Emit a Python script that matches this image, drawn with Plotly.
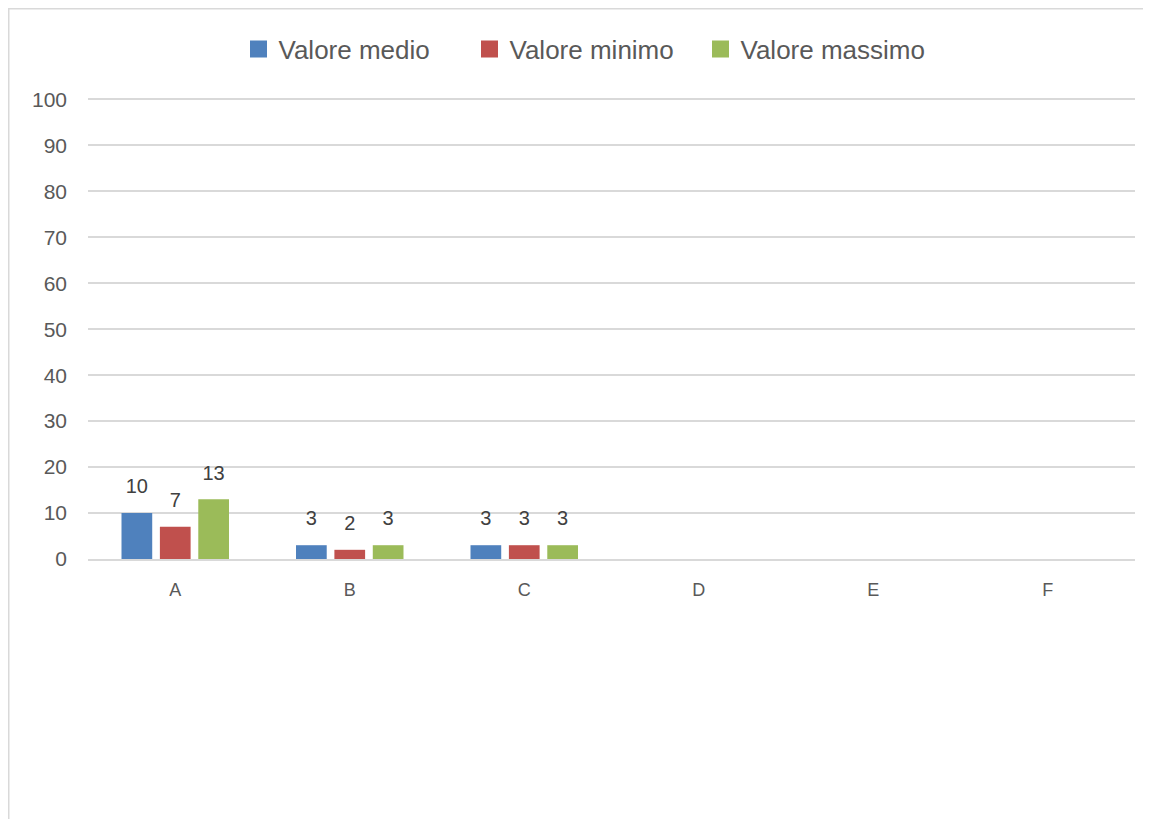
import plotly.graph_objects as go

categories = ["A", "B", "C", "D", "E", "F"]
valore_medio = [10, 3, 3, None, None, None]
valore_minimo = [7, 2, 3, None, None, None]
valore_massimo = [13, 3, 3, None, None, None]
y_ticks = [0, 10, 20, 30, 40, 50, 60, 70, 80, 90, 100]

series = [
    ("Valore medio", valore_medio, "#4F81BD"),
    ("Valore minimo", valore_minimo, "#C0504D"),
    ("Valore massimo", valore_massimo, "#9BBB59"),
]

FONT = "Liberation Sans, Arial, sans-serif"
BARGAP = 0.34
fig = go.Figure()
for i, (name, vals, col) in enumerate(series):
    fig.add_trace(go.Bar(
        x=categories, y=vals, name=name, marker_color=col,
        marker_line_width=0, offsetgroup=str(i), showlegend=False,
    ))
# legend-only entries (larger legend squares)
for i, (name, vals, col) in enumerate(series):
    fig.add_trace(go.Bar(
        x=[None], y=[None], name=name, marker_color=col,
        marker_line=dict(width=5, color=col), offsetgroup=str(i), showlegend=True,
    ))
for i, (name, vals, col) in enumerate(series):
    fig.add_trace(go.Scatter(
        x=categories, y=vals, mode="markers+text", offsetgroup=str(i),
        text=[("" if v is None else str(v)) for v in vals],
        textposition="top center", cliponaxis=False, showlegend=False,
        marker=dict(size=22, color="rgba(0,0,0,0)"), hoverinfo="skip",
        textfont=dict(size=20, color="#404040", family=FONT),
    ))

W, H = 1151, 819
L, T = 80, 90
pw, ph = 1047, 461
R, B = W - L - pw, H - T - ph

fig.update_layout(
    width=W, height=H,
    margin=dict(l=L, r=R, t=T, b=B, pad=0),
    paper_bgcolor="white", plot_bgcolor="white",
    barmode="group", bargap=BARGAP, bargroupgap=0.2,
    scattermode="group", scattergap=BARGAP,
    font=dict(family=FONT, color="#595959"),
    legend=dict(orientation="h", x=(242 - 11.5 - L) / pw, xanchor="left",
                y=1 + (T - 41) / ph, yanchor="middle",
                font=dict(size=26, color="#595959", family=FONT), itemwidth=30,
                entrywidth=186, entrywidthmode="pixels",
                traceorder="normal"),
    showlegend=True,
    xaxis=dict(showgrid=False, showline=True, linecolor="#D9D9D9", linewidth=1.5,
               ticks="", tickfont=dict(size=18, color="#595959"), ticklabelstandoff=14),
    yaxis=dict(range=[0, 100.3], tickvals=y_ticks, showgrid=True, gridcolor="#D9D9D9",
               gridwidth=1.5, zeroline=False, showline=False, ticks="",
               tickfont=dict(size=21, color="#595959"), ticklabelstandoff=20),
    shapes=[dict(type="rect", xref="paper", yref="paper",
                 x0=-L / pw, x1=1 + R / pw, y0=-B / ph, y1=1 + T / ph,
                 line=dict(color="#D9D9D9", width=3), layer="below")],
)

fig.write_html("out.html")
